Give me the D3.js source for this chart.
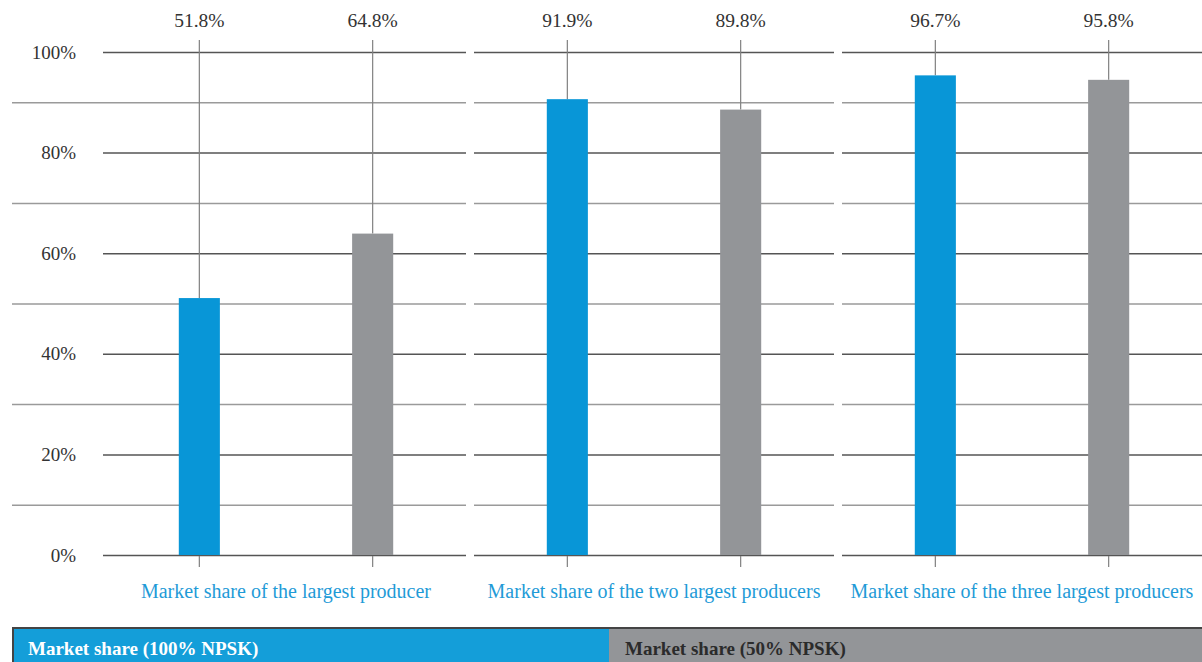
<!DOCTYPE html>
<html><head><meta charset="utf-8">
<script src="https://cdn.jsdelivr.net/npm/d3@7"></script>
<style>
html,body{margin:0;padding:0;background:#fff;}
svg{display:block;}
text{font-family:"Liberation Serif","DejaVu Serif",serif;}
</style></head>
<body>
<svg id="chart" width="1202" height="662"></svg>
<script>
const categories = ["Market share of the largest producer","Market share of the two largest producers","Market share of the three largest producers"];
const seriesNames = ["Market share (100% NPSK)","Market share (50% NPSK)"];
const share100 = [51.8, 91.9, 96.7];
const share50 = [64.8, 89.8, 95.8];
const yTicks = [0, 20, 40, 60, 80, 100];
const yMinor = [10, 30, 50, 70, 90];
const colors = ["#0896d7", "#939598"];
const legendColors = ["#149ed9", "#939598"];

const svg = d3.select("#chart");
const W = 1202, H = 662;
const y = d3.scaleLinear().domain([0, 100]).range([555, 52]);
const yBar = d3.scaleLinear().domain([0, 100]).range([555, 59]);
const x0 = d3.scaleBand().domain(categories).range([106, 1202]).paddingInner(8/368).paddingOuter(0);
const x1 = d3.scaleBand().domain(seriesNames).range([0, x0.bandwidth()]).paddingInner(0.763).paddingOuter(0.42);

const data = categories.map((c, i) => ({cat: c, vals: [share100[i], share50[i]]}));

// gridlines per panel
const g = svg.append("g");
categories.forEach((c, i) => {
  const xs = x0(c), xe = xs + x0.bandwidth();
  g.selectAll(null).data(yMinor).enter().append("line")
    .attr("x1", i === 0 ? 12 : xs).attr("x2", xe)
    .attr("y1", d => y(d) + 0.5).attr("y2", d => y(d) + 0.5)
    .attr("stroke", "#9a9a9a").attr("stroke-width", 1.5);
  g.selectAll(null).data(yTicks).enter().append("line")
    .attr("x1", i === 0 ? 103 : xs).attr("x2", xe)
    .attr("y1", d => y(d) + 0.5).attr("y2", d => y(d) + 0.5)
    .attr("stroke", "#555").attr("stroke-width", 1.5);
});

// y labels
svg.append("g").selectAll("text").data(yTicks).enter().append("text")
  .attr("x", 76).attr("y", d => y(d)).attr("dy", "0.35em")
  .attr("text-anchor", "end").attr("font-size", 19).attr("fill", "#333")
  .text(d => d + "%");

// bars
const groups = svg.append("g").selectAll("g").data(data).enter().append("g")
  .attr("transform", d => `translate(${x0(d.cat)},0)`);

groups.each(function(d) {
  const gg = d3.select(this);
  seriesNames.forEach((s, j) => {
    const v = d.vals[j];
    const cx = x1(s) + x1.bandwidth() / 2;
    gg.append("line").attr("x1", cx).attr("x2", cx)
      .attr("y1", 40).attr("y2", yBar(v))
      .attr("stroke", "#808080").attr("stroke-width", 1.2);
    gg.append("line").attr("x1", cx).attr("x2", cx)
      .attr("y1", y(0) + 1).attr("y2", y(0) + 12)
      .attr("stroke", "#808080").attr("stroke-width", 1.2);
    gg.append("rect").attr("x", x1(s)).attr("width", x1.bandwidth())
      .attr("y", yBar(v)).attr("height", yBar(0) - yBar(v))
      .attr("fill", colors[j]);
    gg.append("text").attr("x", cx).attr("y", 27)
      .attr("text-anchor", "middle").attr("font-size", 19.5).attr("fill", "#333")
      .text(v.toFixed(1) + "%");
  });
  gg.append("text").attr("x", x0.bandwidth() / 2).attr("y", 598)
    .attr("text-anchor", "middle").attr("font-size", 20).attr("fill", "#1f9bd7")
    .text(d.cat);
});

// legend
const lg = svg.append("g");
const lx = d3.scaleOrdinal().domain(seriesNames).range([12, 609]);
const lw = d3.scaleOrdinal().domain(seriesNames).range([597, W - 609]);
seriesNames.forEach((s, j) => {
  lg.append("rect").attr("x", lx(s)).attr("y", 628).attr("width", lw(s)).attr("height", 40)
    .attr("fill", legendColors[j]);
  lg.append("text").attr("x", lx(s) + 16).attr("y", 655)
    .attr("font-size", 19).attr("font-weight", "bold")
    .attr("fill", j === 0 ? "#fff" : "#2b2b2b").text(s);
});
lg.append("line").attr("x1", 12).attr("x2", W).attr("y1", 628).attr("y2", 628)
  .attr("stroke", "#444").attr("stroke-width", 2);
lg.append("line").attr("x1", 13).attr("x2", 13).attr("y1", 628).attr("y2", H)
  .attr("stroke", "#444").attr("stroke-width", 2);
</script>
</body></html>
